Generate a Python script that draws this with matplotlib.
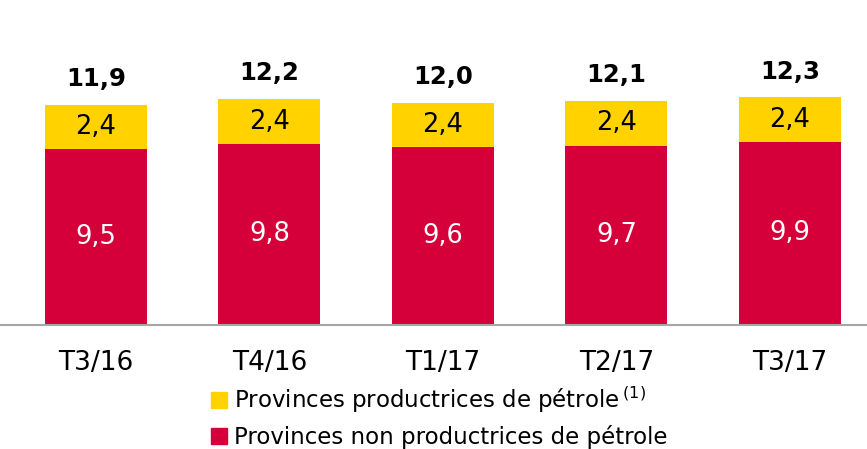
import numpy as np
import matplotlib
matplotlib.use('Agg')
from matplotlib import pyplot as plt
from matplotlib.patches import Patch

periods = ['T3/16', 'T4/16', 'T1/17', 'T2/17', 'T3/17']
non_oil = [9.5, 9.8, 9.6, 9.7, 9.9]
oil = [2.4, 2.4, 2.4, 2.4, 2.4]
totals = [11.9, 12.2, 12.0, 12.1, 12.3]

red = '#D5003A'
yellow = '#FFD200'

plt.rcParams['font.family'] = 'DejaVu Sans'

fig = plt.figure(figsize=(8.67, 4.49), dpi=100)
ax = fig.add_axes([0, 0.2762, 1, 0.7238])

x = np.arange(len(periods))
w = 0.588
ax.bar(x, non_oil, w, color=red)
ax.bar(x, oil, w, bottom=non_oil, color=yellow)

def fmt(v):
	return ('%.1f' % v).replace('.', ',')

for i in range(len(x)):
	ax.text(x[i], non_oil[i] / 2, fmt(non_oil[i]), ha='center', va='center', color='white', fontsize=18.5)
	ax.text(x[i], non_oil[i] + oil[i] / 2, fmt(oil[i]), ha='center', va='center', color='black', fontsize=18.5)
	ax.text(x[i], totals[i] + 1.4, fmt(totals[i]), ha='center', va='center', color='black', fontsize=17.5, fontweight='bold')

ax.set_xlim(-0.553, 4.444)
ax.set_ylim(0, 17.57)
ax.set_xticks(x)
ax.set_xticklabels(periods, fontsize=19)
ax.tick_params(axis='x', length=0, pad=18)
ax.set_yticks([])
for s in ['top', 'right', 'left']:
	ax.spines[s].set_visible(False)
ax.spines['bottom'].set_color('#A6A6A6')
ax.spines['bottom'].set_linewidth(1.5)

handles = [Patch(color=yellow), Patch(color=red)]
labels = ['Provinces productrices de pétrole$\\,^{(1)}$', 'Provinces non productrices de pétrole']
fig.legend(handles, labels, loc='upper left', bbox_to_anchor=(211 / 867, 1 - 384 / 449),
	bbox_transform=fig.transFigure, frameon=False, fontsize=16.5, handlelength=0.7, handleheight=0.7,
	handletextpad=0.3, labelspacing=0.43, borderpad=0, borderaxespad=0)

plt.savefig('out.png', dpi=100)
